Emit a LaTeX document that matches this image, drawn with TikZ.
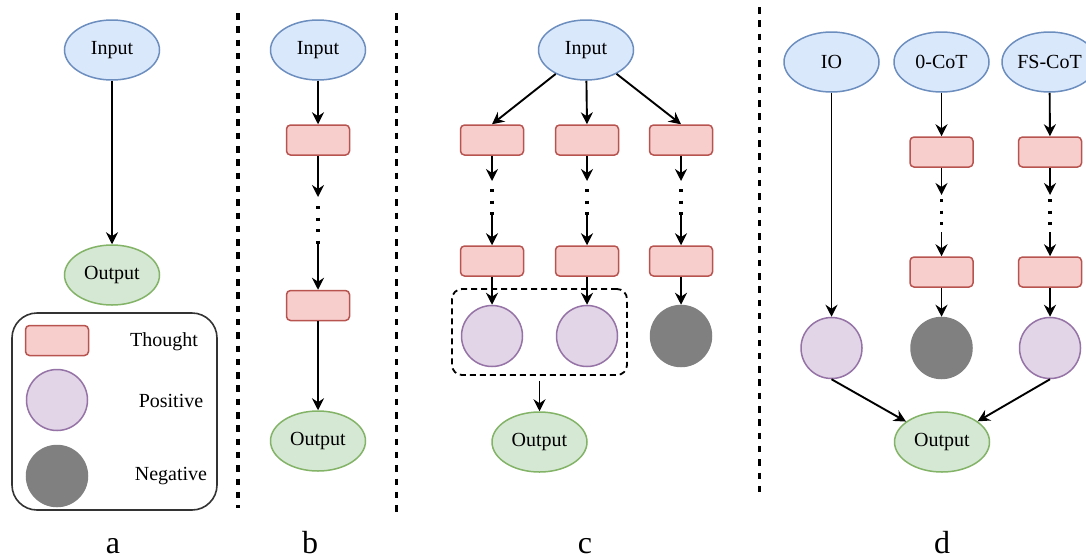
\documentclass[tikz,border=0pt]{standalone}
\usepackage{fontspec}
\setmainfont{Liberation Serif}
\usetikzlibrary{shapes.geometric,arrows.meta}
\definecolor{infill}{HTML}{DAE8FC}
\definecolor{inbord}{HTML}{6C8EBF}
\definecolor{outfill}{HTML}{D5E8D4}
\definecolor{outbord}{HTML}{82B366}
\definecolor{thfill}{HTML}{F8CECC}
\definecolor{thbord}{HTML}{B85450}
\definecolor{posfill}{HTML}{E1D5E7}
\definecolor{posbord}{HTML}{9673A6}
\definecolor{negfill}{HTML}{808080}
\definecolor{legbord}{HTML}{333333}
\tikzset{
  txt/.style={font=\fontsize{20}{24}\selectfont, text=black},
  inp/.style={ellipse, draw=inbord, fill=infill, line width=1.5pt, minimum width=95pt, minimum height=60pt, inner sep=0pt, txt},
  outp/.style={ellipse, draw=outbord, fill=outfill, line width=1.5pt, minimum width=95pt, minimum height=60pt, inner sep=0pt, txt},
  thought/.style={rectangle, rounded corners=4pt, draw=thbord, fill=thfill, line width=1.5pt, minimum width=63pt, minimum height=30pt, inner sep=0pt},
  posnode/.style={circle, draw=posbord, fill=posfill, line width=1.5pt, minimum size=61pt, inner sep=0pt},
  negnode/.style={circle, draw=negfill, fill=negfill, line width=1.5pt, minimum size=61pt, inner sep=0pt},
  arr/.style={-{Stealth[length=12pt,width=12pt,inset=4pt]}, line width=1.9pt, black},
  dotline/.style={line width=3.5pt, dash pattern=on 3.2pt off 8.3pt, black},
  divider/.style={line width=3.2pt, dash pattern=on 6.5pt off 6.8pt, black},
  panel/.style={font=\fontsize{32}{38}\selectfont, anchor=base, inner sep=0pt},
}
\begin{document}
\begin{tikzpicture}[x=1pt,y=-1pt]
\useasboundingbox (0,0) rectangle (1086,558);
% dividers
\draw[divider] (238,13) -- (238,508);
\draw[divider] (396.5,13) -- (396.5,517);
\draw[divider] (759.5,7) -- (759.5,498);

% ---------- panel a ----------
\node[inp] (aIn) at (112,50) {Input};
\node[outp] (aOut) at (112,275) {Output};
\draw[arr] (aIn) -- (aOut);
\node[draw=legbord, line width=1.6pt, rounded corners=25pt, minimum width=205pt, minimum height=197pt, inner sep=0pt] (leg) at (114.5,411.5) {};
\node[thought] (lT) at (57,340.5) {};
\node[posnode] (lP) at (57,400) {};
\node[negnode] (lN) at (57,476) {};
\node[txt] (lTt) at (164,342) {Thought};
\node[txt] (lPt) at (171,401) {Positive};
\node[txt] (lNt) at (171,476) {Negative};

% ---------- panel b ----------
\node[inp] (bIn) at (318,50) {Input};
\node[thought] (b1) at (318,140) {};
\node[thought] (b2) at (318,305.5) {};
\node[outp] (bOut) at (318,441) {Output};
\coordinate (bp) at (318,197);
\coordinate (bq) at (318,206);
\coordinate (br) at (318,244);
\draw[arr] (bIn) -- (b1);
\draw[arr] (b1) -- (bp);
\draw[dotline] (bq) -- (br);
\draw[arr] (br) -- (b2);
\draw[arr] (b2) -- (bOut);

% ---------- panel c ----------
\node[inp] (cIn) at (586,50) {Input};
\foreach \n/\x in {1/492,2/587,3/681}{
  \node[thought] (c1\n) at (\x,140) {};
  \node[thought] (c2\n) at (\x,261) {};
  \coordinate (cp\n) at (\x,181);
  \coordinate (cq\n) at (\x,189);
  \coordinate (cr\n) at (\x,215);
}
\node[posnode] (cc1) at (492,336) {};
\node[posnode] (cc2) at (587,336) {};
\node[negnode] (cc3) at (681,336) {};
\foreach \n in {1,2,3}{
  \draw[arr] (cIn) -- (c1\n.north);
  \draw[arr] (c1\n) -- (cp\n);
  \draw[dotline] (cq\n) -- (cr\n);
  \draw[arr] (cr\n) -- (c2\n);
  \draw[arr] (c2\n) -- (cc\n);
}
\node[draw, line width=1.8pt, dash pattern=on 6pt off 4pt, rounded corners=10pt, minimum width=175pt, minimum height=86pt, inner sep=0pt] (grp) at (539.5,332) {};
\node[outp] (cOut) at (539.5,442) {Output};
\draw[arr, shorten <=5pt] (grp) -- (cOut);

% ---------- panel d ----------
\node[inp] (dIO) at (831.5,62) {IO};
\node[inp] (dZ) at (941.5,62) {0-CoT};
\node[inp] (dF) at (1049.5,62) {FS-CoT};
\foreach \n/\x in {2/941.5,3/1050}{
  \node[thought] (d1\n) at (\x,152) {};
  \node[thought] (d2\n) at (\x,272) {};
  \coordinate (dp\n) at (\x,195);
  \coordinate (dq\n) at (\x,199);
  \coordinate (dr\n) at (\x,232);
}
\node[posnode] (dc1) at (831.5,348) {};
\node[negnode] (dc2) at (941.5,348) {};
\node[posnode] (dc3) at (1050,348) {};
\node[outp] (dOut) at (942,442) {Output};
\draw[arr] (dIO) -- (dc1);
\draw[arr] (dZ) -- (d12);
\draw[arr] (dF) -- (d13);
\foreach \n in {2,3}{
  \draw[arr] (d1\n) -- (dp\n);
  \draw[dotline] (dq\n) -- (dr\n);
  \draw[arr] (dr\n) -- (d2\n);
  \draw[arr] (d2\n) -- (dc\n);
}
\draw[arr] (dc1.south) -- (dOut);
\draw[arr] (dc3.south) -- (dOut);

% panel labels
\node[panel] (la) at (113,553) {a};
\node[panel] (lb) at (310,553) {b};
\node[panel] (lc) at (585,553) {c};
\node[panel] (ld) at (942,553) {d};
\end{tikzpicture}
\end{document}
